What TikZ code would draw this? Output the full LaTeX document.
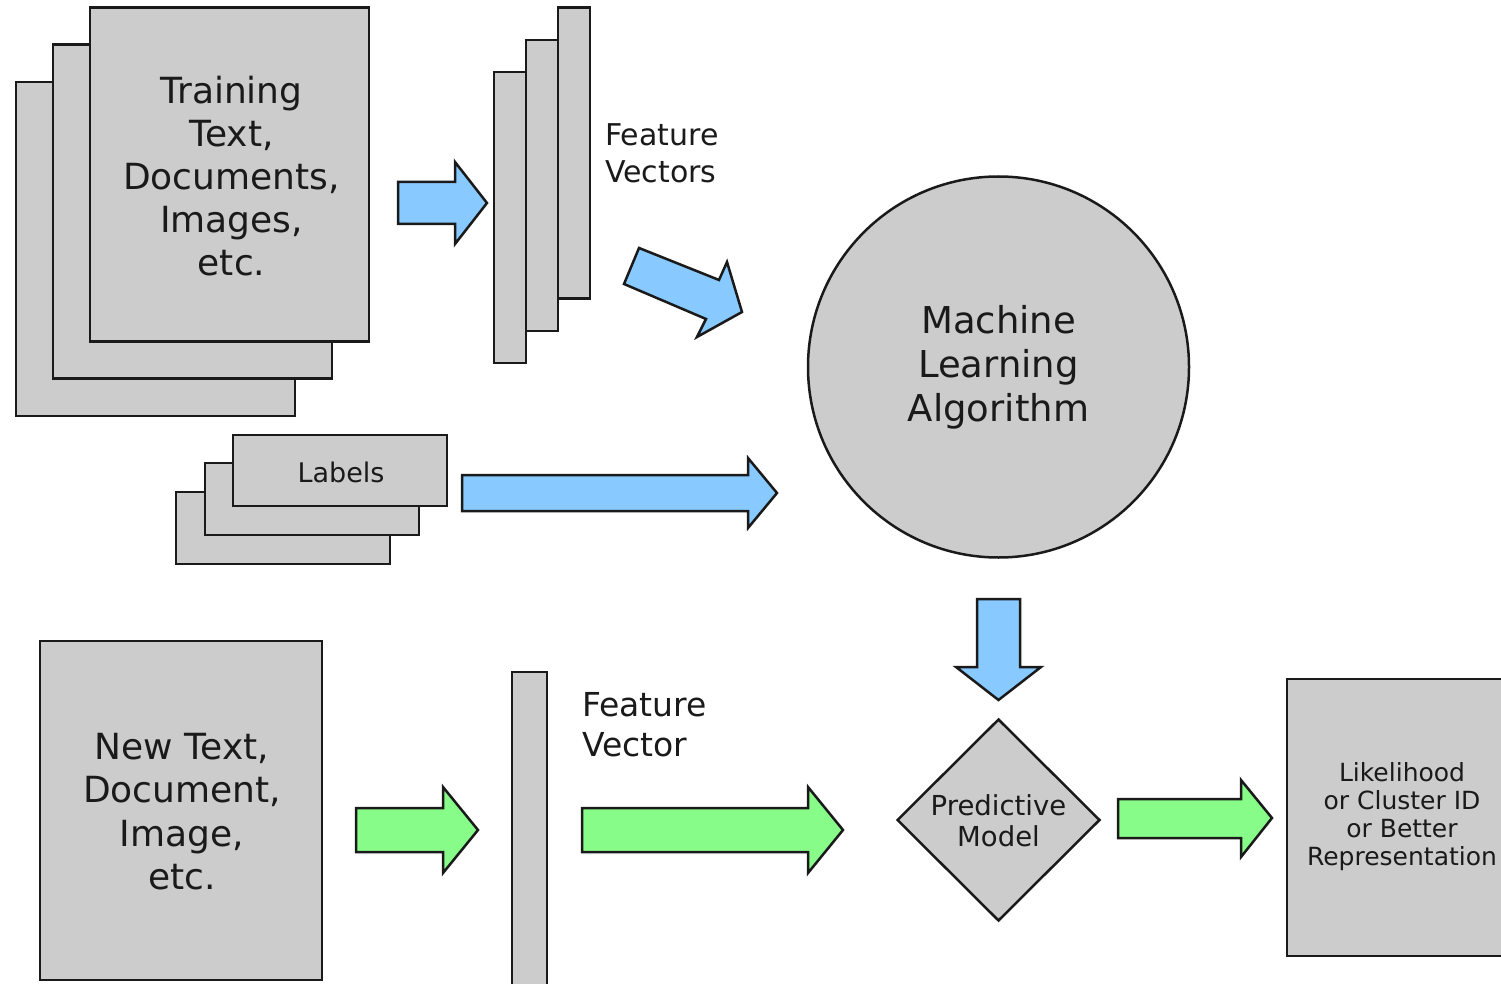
\documentclass[tikz,border=0pt]{standalone}
\usepackage{fontspec}
\setmainfont{DejaVu Sans}
\usetikzlibrary{shapes.geometric}
\definecolor{sheetgray}{HTML}{CCCCCC}
\definecolor{flowblue}{HTML}{88CAFF}
\definecolor{flowgreen}{HTML}{88FC88}
\definecolor{ink}{HTML}{1A1A1A}
\newcommand\fsz[2]{\fontsize{#1}{#2}\selectfont}
\tikzset{
  sheet/.style={draw=ink, fill=sheetgray, line width=2.5pt, rectangle,
    inner sep=0pt, align=center, text=ink},
  caption/.style={inner sep=0pt, align=left, anchor=west, text=ink},
  blueflow/.style={draw=ink, fill=flowblue, line width=2.5pt, line join=miter},
  greenflow/.style={draw=ink, fill=flowgreen, line width=2.5pt, line join=miter},
}
\begin{document}
\begin{tikzpicture}[x=1pt,y=-1pt]
\useasboundingbox (0,0) rectangle (1501,984);
\clip (0,0) rectangle (1501,984);

% training documents (stack of three sheets)
\node[sheet, minimum width=279pt, minimum height=334pt] (doc3) at (155.5,249) {};
\node[sheet, minimum width=279pt, minimum height=334pt] (doc2) at (192.5,211.5) {};
\node[sheet, minimum width=279pt, minimum height=334pt] (doc1) at (229.5,174.5) {};
\node[inner sep=0pt, align=center, text=ink, font=\fsz{36}{43}] (doc1text) at (231.5,176.5)
  {Training\\Text,\\Documents,\\Images,\\etc.};

% feature vectors (stack of bars)
\node[sheet, minimum width=32pt, minimum height=291pt] (fv3) at (510,217.5) {};
\node[sheet, minimum width=32pt, minimum height=291pt] (fv2) at (542,185.5) {};
\node[sheet, minimum width=32pt, minimum height=291pt] (fv1) at (574,153) {};
\node[caption, font=\fsz{30}{37}] (fvtext) at (605,153) {Feature\\Vectors};

% labels (stack of cards)
\node[sheet, minimum width=214pt, minimum height=72pt] (lab3) at (283,528) {};
\node[sheet, minimum width=214pt, minimum height=72pt] (lab2) at (312,499) {};
\node[sheet, minimum width=214pt, minimum height=71pt] (lab1) at (340,470.5) {};
\node[inner sep=0pt, text=ink, font=\fsz{27}{32}] (lab1text) at (341,472) {Labels};

% learning algorithm
\node[sheet, circle, minimum size=381pt, font=\fsz{37}{44}] (algo) at (998.5,367)
  {Machine\\Learning\\Algorithm};

% predictive model
\node[sheet, diamond, aspect=1, minimum width=203pt, minimum height=202pt] (model) at (998.5,820) {};
\node[inner sep=0pt, align=center, text=ink, font=\fsz{27.5}{31}] (modeltext) at (998.5,821)
  {Predictive\\Model};

% new input document
\node[sheet, minimum width=282pt, minimum height=339pt] (newdoc) at (181,810.5) {};
\node[inner sep=0pt, align=center, text=ink, font=\fsz{36}{43.5}] (newdoctext) at (182,811.5)
  {New Text,\\Document,\\Image,\\etc.};

% single feature vector
\node[sheet, minimum width=35pt, minimum height=328pt] (fvnew) at (529.5,836) {};
\node[caption, font=\fsz{33}{40}] (fvnewtext) at (582,725) {Feature\\Vector};

% output
\node[sheet, minimum width=233pt, minimum height=277pt] (out) at (1403.5,817.5) {};
\node[inner sep=0pt, align=center, text=ink, font=\fsz{25}{28}] (outtext) at (1402,817)
  {Likelihood\\or Cluster ID\\or Better\\Representation};

% training flow (blue block arrows)
\draw[blueflow] (398,182) -- (455,182) -- (455,162) -- (487,203) -- (455,244) -- (455,224) -- (398,224) -- cycle;
\draw[blueflow] (639,248) -- (719,280) -- (727,262) -- (742,312) -- (697,337) -- (706,319) -- (624,284) -- cycle;
\draw[blueflow] (462,475) -- (748,475) -- (748,458) -- (777,493) -- (748,528) -- (748,511) -- (462,511) -- cycle;
\draw[blueflow] (977,599) -- (1020,599) -- (1020,667) -- (1041,667) -- (998.5,700) -- (956,667) -- (977,667) -- cycle;

% prediction flow (green block arrows)
\draw[greenflow] (356,808) -- (443,808) -- (443,787) -- (478,830) -- (443,873) -- (443,852) -- (356,852) -- cycle;
\draw[greenflow] (582,808) -- (808,808) -- (808,787) -- (843,830) -- (808,873) -- (808,852) -- (582,852) -- cycle;
\draw[greenflow] (1118,799) -- (1241,799) -- (1241,780) -- (1272,818) -- (1241,857) -- (1241,838) -- (1118,838) -- cycle;
\end{tikzpicture}
\end{document}
